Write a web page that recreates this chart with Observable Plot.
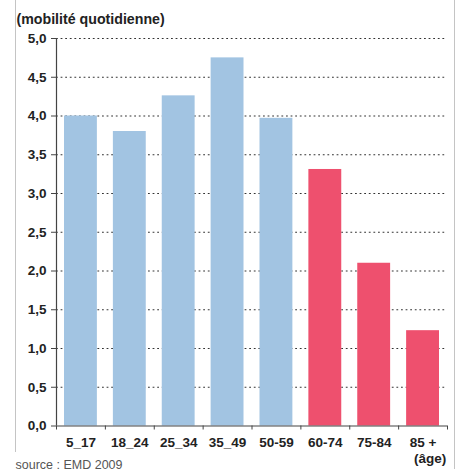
<!DOCTYPE html>
<html>
<head>
<meta charset="utf-8">
<script src="https://cdn.jsdelivr.net/npm/d3@7"></script>
<script src="https://cdn.jsdelivr.net/npm/@observablehq/plot@0.6"></script>
<style>
  html, body { margin: 0; padding: 0; background: #fff; }
  #wrap { position: relative; width: 462px; height: 469px; overflow: hidden; }
  .edge { position: absolute; top: 0; width: 1.5px; background: #c4c4c4; }
</style>
</head>
<body>
<div id="wrap">
  <div class="edge" style="left:14.5px;height:452px"></div>
  <div class="edge" style="left:453.5px;height:469px"></div>
</div>
<script>
// Mobilité quotidienne par tranche d'âge (EMD 2009)
const ages = ["5_17", "18_24", "25_34", "35_49", "50-59", "60-74", "75-84", "85 +"];
const mobilite = [4.0, 3.8, 4.26, 4.75, 3.97, 3.31, 2.1, 1.23];
const seniors = [false, false, false, false, false, true, true, true];
const yTicks = [0, 0.5, 1, 1.5, 2, 2.5, 3, 3.5, 4, 4.5, 5];

const rows = ages.map((age, i) => ({
  age, i, next: i + 1, mid: i + 0.5, value: mobilite[i], senior: seniors[i]
}));

const font = "'Liberation Sans', Arial, sans-serif";
const fmt = d => d3.format(".1f")(d).replace(".", ",");

const chart = Plot.plot({
  width: 462,
  height: 469,
  marginLeft: 56,
  marginRight: 15,
  marginTop: 38,
  marginBottom: 43.5,
  style: { fontFamily: font, background: "transparent", overflow: "visible" },
  x: { type: "linear", domain: [0, ages.length], axis: null },
  y: { type: "linear", domain: [0, 5], axis: null },
  color: { type: "ordinal", domain: [false, true], range: ["#a2c4e2", "#ee506e"] },
  marks: [
    // dotted horizontal grid
    Plot.ruleY(yTicks.filter(d => d > 0), {
      x1: 0, x2: ages.length - 0.04,
      stroke: "#333", strokeWidth: 1.2, strokeDasharray: "1.8,2.8"
    }),
    Plot.rectY(rows, {
      x1: "i", x2: "next", y1: 0, y2: "value",
      fill: "senior", insetLeft: 8, insetRight: 8
    }),
    // y axis
    Plot.ruleX([0], { y1: 0, y2: 5, stroke: "#444", strokeWidth: 1.2 }),
    Plot.axisY({
      ticks: yTicks, tickFormat: fmt, tickSize: 5, tickPadding: 5, label: null,
      stroke: "#444", fontSize: 13.5, fontWeight: "bold", fill: "#222",
      anchor: "left"
    }),
    // x axis with ticks at the band edges
    Plot.ruleY([0], { x1: 0, x2: ages.length, stroke: "#444", strokeWidth: 1.2 }),
    Plot.axisX({
      ticks: d3.range(ages.length + 1), tickFormat: () => "", label: null,
      tickSize: 4, stroke: "#444", anchor: "bottom"
    }),
    Plot.text(rows, {
      x: "mid", y: 0, text: "age", dy: 16.5,
      fontSize: 13.5, fontWeight: "bold", fill: "#222"
    }),
    Plot.text(["(âge)"], {
      x: ages.length - 0.5, y: 0, dx: 7, dy: 32.5,
      fontSize: 13.5, fontWeight: "bold", fill: "#222"
    }),
    // title and source
    Plot.text(["(mobilité quotidienne)"], {
      frameAnchor: "top-left", dx: -40, dy: -25,
      textAnchor: "start", lineAnchor: "top",
      fontSize: 14.2, fontWeight: "bold", fill: "#222"
    }),
    Plot.text(["source : EMD 2009"], {
      frameAnchor: "bottom-left", dx: -41, dy: 43,
      textAnchor: "start", lineAnchor: "bottom",
      fontSize: 12.5, fill: "#555"
    })
  ]
});

document.getElementById("wrap").appendChild(chart);
</script>
</body>
</html>
